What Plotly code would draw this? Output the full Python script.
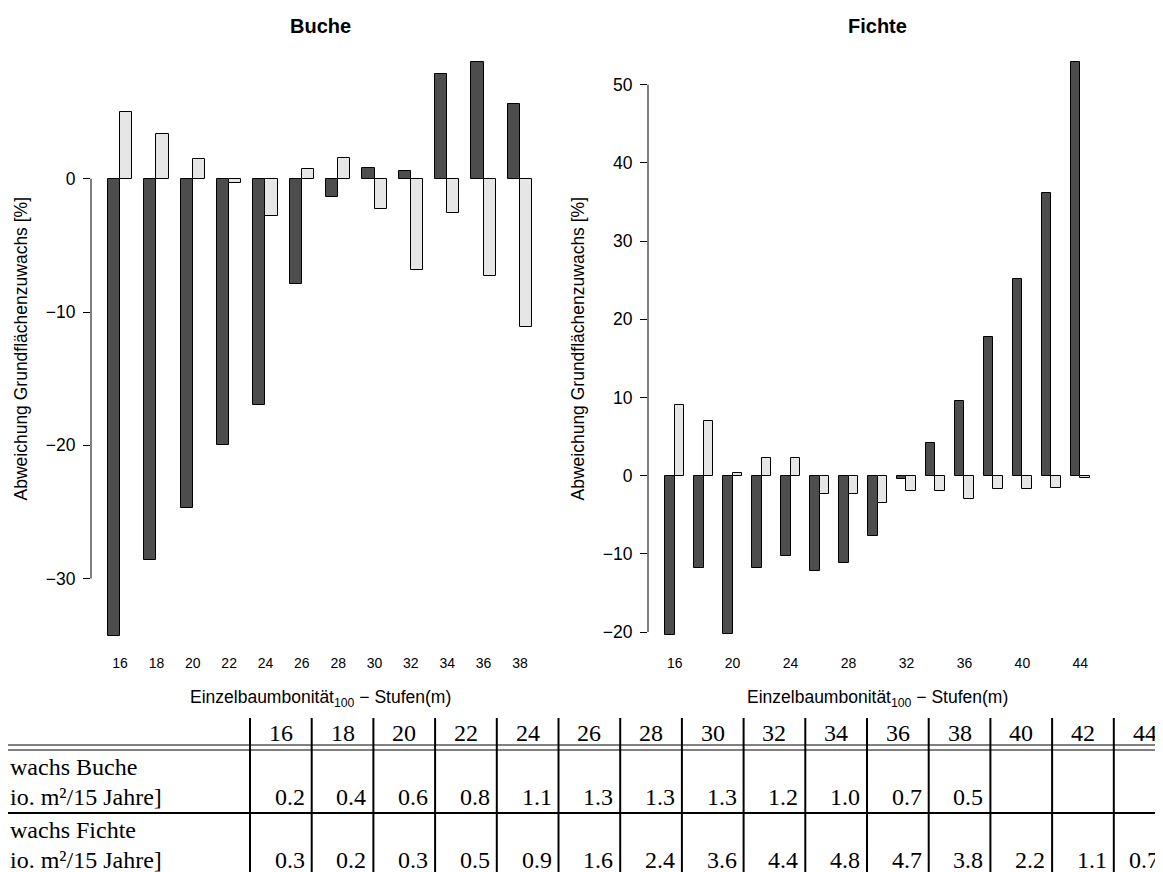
import plotly.graph_objects as go

# ---------------- data ----------------
stufen_buche = [16, 18, 20, 22, 24, 26, 28, 30, 32, 34, 36, 38]
buche_dunkel = [-34.3, -28.6, -24.7, -20.0, -16.95, -7.87, -1.35, 0.78, 0.58, 7.82, 8.72, 5.64]
buche_hell = [5.0, 3.33, 1.48, -0.33, -2.83, 0.70, 1.53, -2.28, -6.87, -2.58, -7.29, -11.1]

stufen_fichte = [16, 18, 20, 22, 24, 26, 28, 30, 32, 34, 36, 38, 40, 42, 44]
fichte_dunkel = [-20.4, -11.8, -20.3, -11.75, -10.3, -12.2, -11.2, -7.7, -0.4, 4.2, 9.5, 17.7, 25.1, 36.1, 52.9]
fichte_hell = [9.06, 6.97, 0.3, 2.3, 2.3, -2.4, -2.4, -3.5, -2.0, -2.0, -2.95, -1.67, -1.75, -1.6, -0.3]

buche_yticks = [-30, -20, -10, 0]
fichte_yticks = [-20, -10, 0, 10, 20, 30, 40, 50]

tabelle_stufen = [16, 18, 20, 22, 24, 26, 28, 30, 32, 34, 36, 38, 40, 42, 44]
zuwachs_buche = ["0.2", "0.4", "0.6", "0.8", "1.1", "1.3", "1.3", "1.3", "1.2", "1.0", "0.7", "0.5", "", "", ""]
zuwachs_fichte = ["0.3", "0.2", "0.3", "0.5", "0.9", "1.6", "2.4", "3.6", "4.4", "4.8", "4.7", "3.8", "2.2", "1.1", "0.7"]
zeilen_buche = ["wachs Buche", "io. m²/15 Jahre]"]
zeilen_fichte = ["wachs Fichte", "io. m²/15 Jahre]"]

titel = ["Buche", "Fichte"]
ylab = "Abweichung Grundflächenzuwachs [%]"
xlab = "Einzelbaumbonität<sub>100</sub> − Stufen(m)"

# ---------------- layout helpers ----------------
W, H = 1163, 872
OFF = 8  # page margin of the html body

def fx(px):
    return (px - OFF) / W

def fy(py):
    return 1 - (py - OFF) / H

DARK = "#4d4d4d"
LIGHT = "#e6e6e6"
SANS = "Liberation Sans, Arial, sans-serif"
SERIF = "Liberation Serif, Times New Roman, serif"

fig = go.Figure()

def add_pairs(stufen, dunkel, hell, xa, ya):
    xd = [3 * i + 1.5 for i in range(len(stufen))]
    xl = [3 * i + 2.5 for i in range(len(stufen))]
    fig.add_trace(go.Bar(x=xd, y=dunkel, width=1, marker=dict(color=DARK, line=dict(color="black", width=1)),
                         xaxis=xa, yaxis=ya, showlegend=False, hoverinfo="y"))
    fig.add_trace(go.Bar(x=xl, y=hell, width=1, marker=dict(color=LIGHT, line=dict(color="black", width=1)),
                         xaxis=xa, yaxis=ya, showlegend=False, hoverinfo="y"))

add_pairs(stufen_buche, buche_dunkel, buche_hell, "x", "y")
add_pairs(stufen_fichte, fichte_dunkel, fichte_hell, "x2", "y2")

TOP, BOT = 39, 653
# Buche: 0 at 178.7px, 13.33 px/unit ; Fichte: 0 at 475.7px, 7.82 px/unit
b0, bs = 178.7, 13.33
f0, fs = 475.7, 7.82

xcommon = dict(showline=False, showgrid=False, zeroline=False, ticks="",
               tickfont=dict(family=SANS, size=14, color="black"))
ycommon = dict(showline=False, showgrid=False, zeroline=False, ticks="outside", ticklen=7,
               tickwidth=1, tickcolor="black", ticklabelstandoff=4,
               tickfont=dict(family=SANS, size=17.5, color="black"))

fig.update_layout(
    width=W, height=H, margin=dict(l=0, r=0, t=0, b=0),
    paper_bgcolor="white", plot_bgcolor="white",
    barmode="overlay", bargap=0,
    xaxis=dict(domain=[fx(91), fx(549)], range=[-0.4, 37.4], anchor="y",
               tickvals=[3 * i + 2 for i in range(len(stufen_buche))],
               ticktext=[str(s) for s in stufen_buche], **xcommon),
    yaxis=dict(domain=[fy(BOT), fy(TOP)], range=[-(BOT - b0) / bs, (b0 - TOP) / bs], anchor="x",
               tickvals=buche_yticks, **ycommon),
    xaxis2=dict(domain=[fx(648), fx(1107)], range=[-0.76, 46.76], anchor="y2",
                tickvals=[3 * i + 2 for i in range(len(stufen_fichte))][::2],
                ticktext=[str(s) for s in stufen_fichte][::2], **xcommon),
    yaxis2=dict(domain=[fy(BOT), fy(TOP)], range=[-(BOT - f0) / fs, (f0 - TOP) / fs], anchor="x2",
                tickvals=fichte_yticks, **ycommon),
)

shapes = []
# y axis lines spanning only the tick range (R style)
shapes.append(dict(type="line", xref="x domain", yref="y", x0=0, x1=0,
                   y0=min(buche_yticks), y1=max(buche_yticks), line=dict(color="black", width=1)))
shapes.append(dict(type="line", xref="x2 domain", yref="y2", x0=0, x1=0,
                   y0=min(fichte_yticks), y1=max(fichte_yticks), line=dict(color="black", width=1)))

ann = []
# titles
for t, cx in zip(titel, [320, 877]):
    ann.append(dict(text="<b>%s</b>" % t, x=fx(cx), y=fy(26), xref="paper", yref="paper",
                    showarrow=False, xanchor="center", yanchor="middle",
                    font=dict(family=SANS, size=20, color="black")))
# y labels
for cx in [20, 577]:
    ann.append(dict(text=ylab, x=fx(cx), y=fy((TOP + 658) / 2), xref="paper", yref="paper",
                    showarrow=False, xanchor="center", yanchor="middle", textangle=-90,
                    font=dict(family=SANS, size=17.5, color="black")))
# x labels
for cx in [320, 877]:
    ann.append(dict(text=xlab, x=fx(cx), y=fy(698), xref="paper", yref="paper",
                    showarrow=False, xanchor="center", yanchor="middle",
                    font=dict(family=SANS, size=17.5, color="black")))

# ---------------- table ----------------
COL0, COLW = 250, 61.7
TFONT = dict(family=SERIF, size=24, color="black")
for i in range(len(tabelle_stufen) + 1):
    xb = COL0 + i * COLW
    shapes.append(dict(type="line", xref="paper", yref="paper", x0=fx(xb), x1=fx(xb),
                       y0=fy(718), y1=0, line=dict(color="black", width=2)))
for yy in [745, 750]:
    shapes.append(dict(type="line", xref="paper", yref="paper", x0=0, x1=1,
                       y0=fy(yy), y1=fy(yy), line=dict(color="black", width=1)))
shapes.append(dict(type="line", xref="paper", yref="paper", x0=0, x1=1,
                   y0=fy(813), y1=fy(813), line=dict(color="black", width=2)))

for i, s in enumerate(tabelle_stufen):
    cx = COL0 + i * COLW + COLW / 2
    ann.append(dict(text=str(s), x=fx(cx), y=fy(733), xref="paper", yref="paper",
                    showarrow=False, xanchor="center", yanchor="middle", font=TFONT))
    rx = min(COL0 + (i + 1) * COLW - 5, W - 2)
    for val, yy in [(zuwachs_buche[i], 797), (zuwachs_fichte[i], 860)]:
        if val:
            ann.append(dict(text=val, x=fx(rx), y=fy(yy), xref="paper", yref="paper",
                            showarrow=False, xanchor="right", yanchor="middle", font=TFONT))
for txt, yy in zip(zeilen_buche + zeilen_fichte, [767, 797, 830, 860]):
    ann.append(dict(text=txt, x=0, y=fy(yy), xref="paper", yref="paper",
                    showarrow=False, xanchor="left", yanchor="middle", font=TFONT))

fig.update_layout(shapes=shapes, annotations=ann)
fig.write_html("out.html")
